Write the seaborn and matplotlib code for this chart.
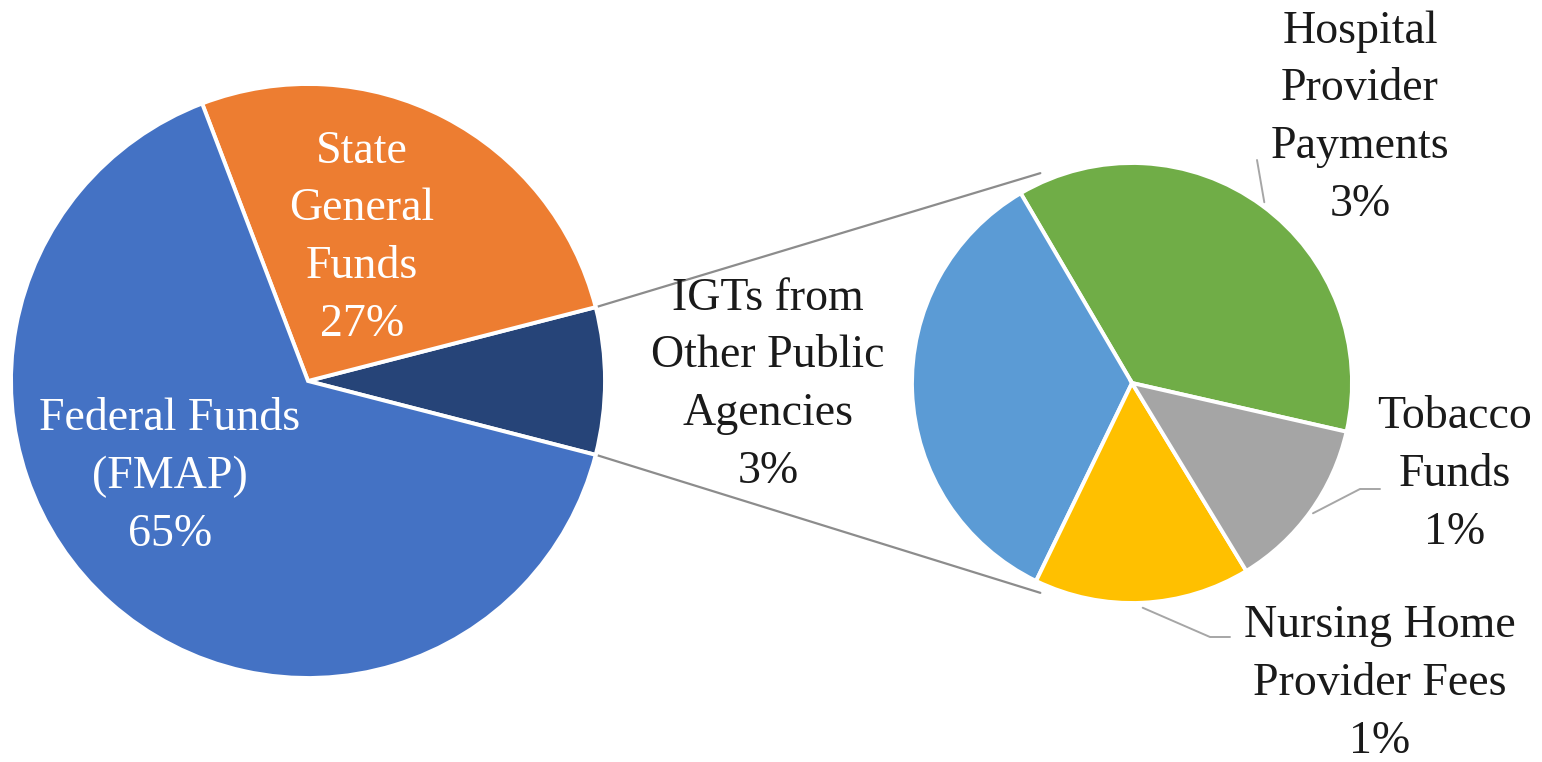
import matplotlib
matplotlib.use("Agg")
import matplotlib.pyplot as plt
import numpy as np
import seaborn as sns

# Medi-Cal funding sources (percent of total)
main_labels = ["Other Sources", "State\nGeneral\nFunds", "Federal Funds\n(FMAP)"]
main_values = [8.0, 26.8, 65.2]

# Breakdown of the "Other Sources" slice
sub_labels = ["Hospital\nProvider\nPayments", "IGTs from\nOther Public\nAgencies",
              "Nursing Home\nProvider Fees", "Tobacco\nFunds"]
sub_values = [2.96, 2.75, 1.27, 1.02]

main_colors = ["#264478", "#ED7D31", "#4472C4"]
sub_colors = ["#70AD47", "#5B9BD5", "#FFC000", "#A5A5A5"]

sns.set_theme(style="white")
plt.rcParams["font.family"] = ["Liberation Serif", "DejaVu Serif"]

W, H = 1542, 762
fig = plt.figure(figsize=(W / 100, H / 100), dpi=100)
ax = fig.add_axes([0, 0, 1, 1])

c_main, r_main = (308, 381), 297
c_sub, r_sub = (1132, 379), 220

wedge_kw = dict(edgecolor="white", linewidth=2.8)
w_main, _ = ax.pie(main_values, colors=main_colors, startangle=-14.4,
                   center=c_main, radius=r_main, wedgeprops=wedge_kw, frame=True)
w_sub, _ = ax.pie(sub_values, colors=sub_colors, startangle=-12.8,
                  center=c_sub, radius=r_sub, wedgeprops=wedge_kw, frame=True)
ax.set_xlim(0, W)
ax.set_ylim(0, H)
ax.set_aspect("equal")
ax.set_axis_off()


def polar(center, r, deg):
    a = np.deg2rad(deg)
    return center[0] + r * np.cos(a), center[1] + r * np.sin(a)


# connector lines from the "Other Sources" wedge to the breakdown pie
other = w_main[0]
for ang_main, ang_sub in [(other.theta2, 113.6), (other.theta1, -113.6)]:
    x0, y0 = polar(c_main, r_main + 2, ang_main)
    x1, y1 = polar(c_sub, r_sub + 9, ang_sub)
    ax.plot([x0, x1], [y0, y1], color="#8C8C8C", lw=1.6, zorder=0)

fs = 33
ls = 1.47

# labels inside the main pie
main_pct = [f"{v:.0f}%" for v in main_values]
ax.text(362, H - 238, f"{main_labels[1]}\n{main_pct[1]}", color="white",
        fontsize=fs, ha="center", va="center", linespacing=ls)
ax.text(170, H - 477, f"{main_labels[2]}\n{main_pct[2]}", color="white",
        fontsize=fs, ha="center", va="center", linespacing=ls)

# labels for the breakdown pie
sub_pct = [f"{v:.0f}%" for v in sub_values]
sub_text_pos = [(1360, H - 118), (768, H - 385), (1380, H - 684), (1455, H - 475)]
for lab, pct, (tx, ty) in zip(sub_labels, sub_pct, sub_text_pos):
    ax.text(tx, ty, f"{lab}\n{pct}", color="#1a1a1a", fontsize=fs,
            ha="center", va="center", linespacing=ls)

# leader lines for the outer labels
lead = "#A6A6A6"
hp = w_sub[0]
mid = (hp.theta1 + hp.theta2) / 2
x0, y0 = polar(c_sub, r_sub + 4, mid)
ax.plot([x0, 1257], [y0, H - 160], color=lead, lw=1.4)

nh = w_sub[2]
mid = (nh.theta1 + nh.theta2) / 2
x0, y0 = polar(c_sub, r_sub + 5, mid)
ax.plot([x0, 1210, 1230], [y0, H - 637, H - 637], color=lead, lw=1.4)

tb = w_sub[3]
mid = (tb.theta1 + tb.theta2) / 2
x0, y0 = polar(c_sub, r_sub + 3, mid)
ax.plot([x0, 1360, 1380], [y0, H - 489, H - 489], color=lead, lw=1.4)

fig.savefig("out.png", dpi=100, facecolor="white")
